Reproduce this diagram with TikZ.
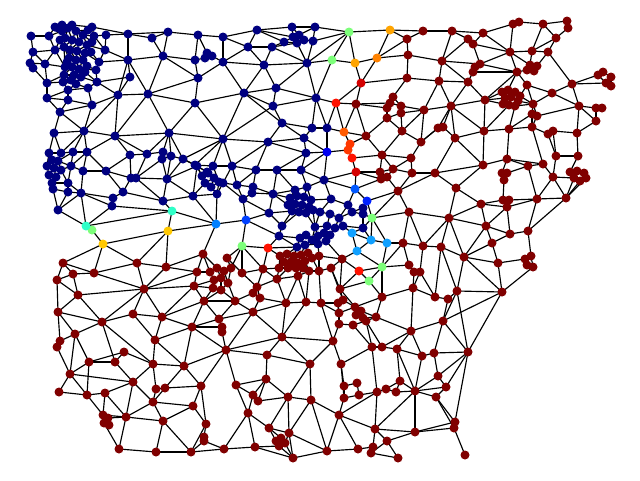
\documentclass[tikz,border=0pt]{standalone}
\usetikzlibrary{backgrounds}
\definecolor{nv}{HTML}{000080}
\definecolor{dr}{HTML}{800000}
\definecolor{lgr}{HTML}{7DFF7A}
\definecolor{ora}{HTML}{FFA400}
\definecolor{orb}{HTML}{FF8200}
\definecolor{orc}{HTML}{FF5A00}
\definecolor{ord}{HTML}{FF3800}
\definecolor{rdd}{HTML}{FF1200}
\definecolor{rre}{HTML}{D40000}
\definecolor{cya}{HTML}{2FFFC8}
\definecolor{gol}{HTML}{FFC800}
\definecolor{bla}{HTML}{0080FF}
\definecolor{blb}{HTML}{0058FF}
\definecolor{blc}{HTML}{0020FF}
\definecolor{bld}{HTML}{0040FF}
\definecolor{ble}{HTML}{0000F0}
\definecolor{lbl}{HTML}{10A0FF}
\begin{document}
\begin{tikzpicture}[x=1pt,y=-1pt,
  nd/.style={circle,inner sep=0pt,minimum size=9pt,draw=none},
  ed/.style={line width=1.15pt,black}]
\useasboundingbox (0,0) rectangle (640,480);
% navy nodes
\foreach \n/\x/\y in {b1/31/36,b2/49/36,b3/55/27,b4/62/25,b5/72/25,b6/92/27,b7/94/36,b8/106/35,b9/128/34,b10/152/38,b11/168/32,b12/198/35,b13/223/37,b14/33/52,b15/55/50,b16/30/63,b16x/33/68,b17/45/64,b18/65/67,b19/64/75,b20/63/82,b21/47/83,b22/47/98,b23/68/90,b24/68/100,b25/88/88,b26/97/82,b27/96/70,b28/99/62,b29/92/105,b30/105/50,b31/128/60,b32/130/77,b33/163/56,b34/195/60,b35/207/53,b35x/212/56,b35y/205/58,b36/223/62,b37/198/78,b38/118/95,b39/148/94,b40/195/103,b41/60/112,b42/54/133,b43/84/131,b44/115/136,b45/169/133,b46/223/139,b47/49/153,b48/61/153,b49/73/152,b50/87/152,b51/130/155,b52/147/154,b53/163/152,b54/162/159,b55/171/156,b56/183/159,b57/195/165,b58/213/166,b59/207/172,
k1/62/31,k2/68/28,k3/76/31,k4/83/35,k5/65/38,k6/72/40,k7/79/42,k8/87/45,k9/64/47,k10/70/50,k11/77/51,k12/85/53,k13/69/58,k14/76/60,k15/83/60,k16/72/67,k17/79/69,k18/74/75,k19/81/77,k20/76/84,
k21/58/28,k22/88/30,k23/92/42,k24/60/40,k25/91/52,k26/67/62,k27/87/66,k28/71/80,k29/85/72,
l1/52/160,l2/58/161,l3/47/166,l4/54/168,l5/61/170,l6/49/175,l7/56/177,l8/52/183,
b60/71/166,b61/83/171,b62/106/171,b63/131/178,b63x/136/178,b64/167/179,b65/197/166,m1/202/176,m2/208/173,m3/214/178,m4/205/183,m5/211/187,m6/219/182,b66/53/189,b67/68/192,b68/81/193,b69/68/183,b70/123/192,b71/113/198,b72/112/206,b73/163/201,b74/193/196,b75/217/194,b76/58/210,
b80/257/30,b81/292/27,b82/315/27,q1/293/37,q2/299/35,q3/304/40,q4/297/43,b83/284/42,b84/313/41,b85/248/47,b86/272/47,b87/264/65,b88/307/63,b89/244/93,b90/276/88,b91/273/106,b92/316/98,b93/282/123,b94/312/128,b95/327/128,b96/268/142,b97/304/138,b98/306/153,b99/232/166,b100/256/170,b101/277/170,b102/301/170,
b110/324/180,b111/223/183,b112/237/185,b113/253/187,b114/252/193,b115/273/194,b116/243/199,b117/295/190,b118/307/187,nb1/290/198,nb2/297/196,nb3/304/197,nb4/311/200,nb5/288/205,nb6/295/204,nb7/302/205,nb8/309/207,nb9/292/211,nb10/299/212,nb11/306/213,nb12/313/210,b120/331/199,b121/348/205,b122/352/212,b123/363/208,b124/363/214,b125/320/212,b126/269/213,b128/330/214,b129/339/218,b130/282/226,b131/279/236,b132/315/227,b133/327/226,b134/335/228,b135/343/226,b136/363/228,p1/300/238,p2/306/235,p3/312/240,p4/318/236,p5/324/233,p6/330/235,p7/305/245,p8/318/244,p9/326/241,b137/297/247}
  \node[nd,fill=nv] (\n) at (\x,\y) {};
% dark red nodes
\foreach \n/\x/\y in {r1/203/254,r2/63/263,r3/137/263,r4/166/267,r5/73/274,r6/94/273,r7/197/272,r8/57/280,r9/144/289,r10/194/286,c1/210/272,c2/217/268,c3/224/271,c4/231/268,c5/214/280,c6/221/278,c7/228/283,c8/213/288,c9/221/290,r11/78/295,r12/204/301,r13/58/312,r14/133/314,r15/162/317,r16/102/322,r17/219/319,
r20/423/31,r21/407/39,r22/408/55,r23/407/78,r24/356/104,r25/393/97,r26/390/103,r27/387/108,r28/401/106,r29/401/113,r30/387/118,r31/424/110,r32/366/136,r33/402/131,r34/421/142,r35/382/155,r36/411/158,r37/380/172,r38/387/177,r39/381/179,r40/393/169,r41/412/173,
r50/452/31,r51/468/39,r52/473/44,r53/483/33,r54/513/24,r55/519/22,r56/543/24,r57/567/21,r58/568/28,r59/556/38,r60/510/52,r61/532/51,r62/548/52,r63/530/65,r64/537/66,r65/527/70,r66/534/71,r67/442/61,r68/480/64,r69/475/67,r70/473/72,r71/517/72,r72/439/81,r73/468/82,r74/527/85,r75/552/93,r76/572/84,r77/598/75,r78/603/72,r79/611/77,r80/606/83,r81/611/86,r82/485/100,
r83/502/92,r84/508/90,r85/515/92,r86/520/96,r87/505/98,r88/511/97,r89/518/101,r90/503/104,r91/509/105,r92/515/106,
r93/533/104,r94/532/114,r95/537/116,r96/579/106,r97/596/108,r98/602/108,r99/596/121,r100/451/106,r102/438/128,r103/443/127,r104/484/131,r105/509/129,r106/532/127,r107/548/134,r108/553/131,r109/577/133,r111/455/138,r112/556/156,r113/578/156,r114/543/164,r115/507/159,r116/483/165,r117/435/173,r118/502/173,r119/507/173,r120/504/180,r121/528/166,r122/570/172,r123/577/171,r124/584/173,r125/574/178,r126/580/181,r127/586/178,r157/553/177,
r130/456/188,r131/481/204,r132/503/200,r133/509/200,r134/507/207,r135/537/199,r136/566/198,r137/449/218,r138/486/226,r139/510/234,r140/528/231,r141/492/243,r142/423/246,r143/441/247,r144/464/257,r145/498/263,r146/525/259,r147/531/256,r148/533/267,r149/527/265,r151/457/291,r152/435/297,r153/448/299,r154/502/292,r155/443/321,
r161/398/191,r162/409/212,r163/403/243,r165/342/259,s1/280/256,s2/287/254,s3/294/256,s4/301/255,s5/308/253,s6/284/262,s7/291/262,s8/298/263,s9/305/261,s10/312/258,s11/319/256,s12/288/268,s13/296/268,s14/303/268,s15/279/268,
r166/227/258,r167/242/273,r168/263/269,r169/298/276,r170/309/271,r171/319/271,r172/331/268,r173/277/279,r174/257/287,r175/340/289,r176/382/297,r177/409/265,r178/414/272,r179/420/272,r180/413/288,r181/253/293,r182/260/298,r182b/253/312,r183/235/301,r184/286/303,r185/306/302,r186/321/303,r187/338/303,r188/343/300,r189/355/307,r189b/339/313,r190/361/311,r191/356/315,r192/363/318,r193/376/317,
r200/192/327,r201/222/327,r202/222/332,r203/75/334,r204/60/341,r205/57/347,r206/155/340,r207/226/350,r208/89/362,r209/115/362,r210/124/352,r211/153/364,r212/184/366,r213/70/374,r214/133/382,r215/156/389,r216/165/388,r217/201/386,r218/59/392,r219/87/395,r220/105/393,r221/153/402,r222/193/406,t1/103/415,t2/108/418,t3/104/423,t4/109/425,r224/126/417,r225/163/421,r226/206/424,r227/204/437,r228/204/441,r229/119/449,r230/156/452,r231/191/452,r232/224/449,
r233/282/337,r234/333/341,r235/339/324,r236/353/325,r237/366/321,r239/411/331,r240/267/355,r241/310/364,r242/341/364,r243/372/347,r244/382/347,r245/397/349,r246/422/356,r247/266/379,r248/236/385,r249/253/395,r250/258/401,r251/288/397,r252/311/400,r253/344/386,r254/357/383,r255/359/395,r256/344/398,r257/377/392,r258/386/389,r259/396/392,r260/400/381,r261/415/391,r262/339/415,r263/248/413,r264/269/428,r265/289/433,r266/375/429,r267/415/432,r268/387/441,u1/276/441,u2/281/438,u3/285/443,u4/279/446,r270/255/447,r271/293/458,r272/327/451,r273/358/449,r274/373/447,r275/371/453,r276/398/458,
r280/468/352,r281/434/353,r282/438/376,r283/446/387,r284/436/397,r285/455/422,r286/454/428,r287/465/455}
  \node[nd,fill=dr] (\n) at (\x,\y) {};
% coloured nodes
\foreach \n/\x/\y/\c in {g1/349/32/lgr,g2/332/60/lgr,g3/372/218/lgr,g4/242/246/lgr,g5/382/267/lgr,g6/369/281/lgr,lg1/92/230/lgr,
o1/390/30/ora,o2/355/63/ora,o3/377/58/orb,o4/344/132/orc,or1/350/144/ord,or2/348/150/ord,
rb1/336/103/rdd,rd1/352/158/rdd,rd2/268/248/rdd,rd3/359/271/rdd,rr1/361/83/rre,rr2/356/172/rre,
cy1/172/211/cya,cy2/86/226/cya,y1/168/231/gol,y2/103/244/gol,
bl1/216/224/bla,bl2/355/189/blb,bl3/367/201/blc,bl4/246/220/bld,bb1/327/152/ble,
lb1/352/233/lbl,lb2/371/240/lbl,lb3/387/243/lbl,lb4/357/251/lbl}
  \node[nd,fill=\c] (\n) at (\x,\y) {};
\begin{pgfonlayer}{background}
% top-left
\foreach \a/\b in {b1/b2,b1/b14,b2/b3,b2/b15,b2/k1,b3/b4,b4/b5,b4/k1,b5/k2,b5/k3,b5/b6,b6/k4,b6/b7,b6/b9,b7/k4,b7/b8,b7/b30,b8/b9,b8/b30,b9/b10,b9/b11,b9/b31,b10/b11,b10/b33,b11/b12,b11/b33,b12/b13,b12/b34,b13/b36,b13/b80,b13/b85,b14/b15,b14/b16,b14/b17,b15/b17,b15/k9,b15/b18,b16/b16x,b16/b17,b16x/b21,b17/b21,b17/b18,b18/b19,b18/k16,b19/b20,b19/b21,b20/b21,b20/b23,b20/k20,b21/b22,b22/b23,b22/b24,b22/b41,b23/b24,b23/b25,b24/b29,b24/b41,b25/b26,b25/b29,b25/k20,b26/b27,b26/b38,b26/k19,b26/b32,b27/b28,b27/k17,b28/b30,b28/k12,b28/b31,b29/b38,b29/b41,b29/b43,b30/b31,b30/k8,b31/b32,b31/b33,b31/b38,b31/b39,b32/b38,b33/b34,b33/b37,b33/b39,b34/b35y,b34/b37,b35/b35x,b35/b35y,b35x/b36,b35/b12,b36/b37,b36/b85,b36/b87,b36/b89,b37/b39,b37/b40,b38/b39,b38/b43,b38/b44,b39/b40,b39/b44,b39/b45,b40/b45,b40/b46,b40/b89,
b41/b42,b41/b43,b42/b43,b42/b47,b42/b48,b43/b44,b43/b48,b43/b49,b43/b50,b44/b45,b44/b50,b44/b51,b44/b52,b45/b46,b45/b52,b45/b53,b45/b55,b45/b56,b46/b56,b46/b57,b46/b58,b46/b89,b46/b91,b46/b96,b46/b99}
  \draw[ed] (\a.center) -- (\b.center);
\foreach \a/\b in {k1/k2,k2/k3,k3/k4,k1/k5,k2/k5,k2/k6,k3/k6,k3/k7,k4/k7,k4/k8,k5/k6,k6/k7,k7/k8,k5/k9,k6/k10,k6/k9,k7/k11,k7/k10,k8/k12,k8/k11,k9/k10,k10/k11,k11/k12,k9/k13,k10/k13,k10/k14,k11/k14,k11/k15,k12/k15,k13/k14,k14/k15,k13/k16,k14/k16,k14/k17,k15/k17,k16/k17,k16/k18,k17/k18,k17/k19,k18/k19,k18/k20,k19/k20,k13/b18,k16/b19,k18/b19,k18/b20,k20/b23,k9/b18,
k21/k1,k21/b3,k21/k5,k22/k4,k22/b6,k22/k3,k23/k4,k23/k8,k23/b7,k24/k5,k24/k9,k24/b15,k25/k8,k25/k12,k25/b28,k26/k13,k26/k16,k26/b18,k27/k15,k27/k17,k27/b27,k28/k18,k28/k20,k28/b19,k29/k17,k29/k19,k29/b26,
b47/b48,b47/l1,b47/l3,b48/l2,b48/b49,b49/b50,b49/l2,b49/b60,b50/b60,b50/b61,b50/b62,b51/b62,b51/b52,b51/b63,b52/b53,b52/b63x,b53/b54,b53/b55,b54/b55,b54/b64,b54/b63x,b55/b56,b55/b64,b56/b57,b56/b64,b56/b65,b57/b65,b57/b58,b57/b59,b58/b59,b58/m2,b58/m6,b58/b99,b59/m1,b59/m2,b59/b65,b65/m1,b65/m4,b65/b74,b64/b65,b64/b74,b64/b73,b63/b63x,b63/b70,b63x/b64,b63x/b73,b62/b63,b62/b70,b62/b61,b61/b60,b61/b68,b60/l2,b60/l5,b60/b69,l1/l2,l1/l3,l1/l4,l2/l4,l2/l5,l3/l4,l3/l6,l4/l5,l4/l7,l4/l6,l5/l7,l6/l7,l6/l8,l7/l8,l5/b69,l8/b66,l8/b69,b66/b67,b66/b76,b67/b68,b67/b69,b67/b76,b68/b69,b68/b76,b68/cy2,b68/b72,b68/b71,b71/b70,b71/b72,b70/b73,b72/cy1,b72/cy2,b73/cy1,b73/b74,b74/bl1,b74/b75,b74/m4,b75/m5,b75/m6,b75/bl1,b75/b111,m1/m2,m1/m4,m2/m3,m3/m4,m3/m6,m4/m5,m5/m6,m3/m5,b76/cy2,cy2/lg1,cy2/cy1,lg1/y2,cy1/y1,cy1/bl1,y1/y2,y1/bl1,y1/r3,y1/r4,y2/r2,y2/r3,y2/r6,bl1/r1,bl1/bl4,m6/b111}
  \draw[ed] (\a.center) -- (\b.center);
% bottom-left red
\foreach \a/\b in {r1/r4,r1/r7,r1/c1,r1/c2,r2/r5,r2/r8,r2/r6,r5/r8,r5/r6,r5/r11,r8/r11,r8/r13,r6/r3,r6/r9,r3/r9,r3/r4,r4/r9,r4/r7,r7/r9,r7/r10,r7/c1,r9/r10,r9/r11,r9/r14,r9/r16,r9/r15,r10/r15,r10/r12,r10/c5,r10/c8,r12/r15,r12/r17,r12/c8,r12/c9,r12/r183,r12/r200,r11/r13,r11/r16,r13/r16,r13/r203,r13/r204,r14/r16,r14/r15,r14/r206,r15/r206,r15/r200,r16/r203,r16/r209,r16/r211,r17/r200,r17/r201,r17/r182b,r17/r183,r201/r202,r202/r207,
c1/c2,c2/c3,c3/c4,c1/c5,c2/c6,c3/c6,c3/c7,c4/c7,c5/c6,c6/c7,c5/c8,c6/c9,c7/c9,c8/c9,c4/r166,c9/r183,c7/r183,
r182b/r183,r182b/r182,r182b/r184,r182b/r233,r182b/r207,
r200/r201,r200/r206,r200/r207,r200/r212,r203/r204,r203/r208,r203/r213,r204/r205,r205/r213,r206/r211,r206/r212,r207/r212,r207/r217,r208/r209,r208/r210,r208/r213,r208/r219,r209/r210,r209/r214,r210/r211,r211/r212,r211/r214,r211/r215,r212/r216,r212/r217,r213/r214,r213/r218,r213/r219,r214/r220,r214/r221,r214/r224,r215/r216,r215/r221,r216/r217,r216/r221,r217/r222,r217/r226,r218/r219,r219/r220,r220/t1,r220/r224,r221/r222,r221/r224,r221/r225,r222/r225,r222/r226,r224/t1,r224/t2,r224/r229,r224/r225,r225/r230,r225/r231,r226/r231,r226/r227,r227/r228,r228/r231,r228/r232,r229/r230,r229/t3,r230/r231,r231/r232,t1/t2,t1/t3,t2/t4,t3/t4,t1/r219,r207/r248,r232/r270,r232/r263}
  \draw[ed] (\a.center) -- (\b.center);
% top middle
\foreach \a/\b in {b80/b81,b80/b85,b80/q1,b80/b83,b81/q1,b81/q2,b81/b82,b82/q2,b82/b84,b82/g1,b83/q1,b83/q4,b83/b86,b84/q3,b84/g1,b84/b88,q1/q2,q2/q3,q3/q4,q4/q1,q4/b88,q4/b86,b85/b86,b85/b87,b86/b87,b86/b88,b87/b88,b87/b89,b87/b90,b88/b90,b88/b92,b88/g2,b88/g1,g1/g2,g1/o2,g1/o1,g2/o2,g2/b92,o1/o3,o1/r21,o1/r20,o2/o3,o2/rr1,o3/rr1,o3/r22,o3/r21,r20/r21,r20/r50,r21/r22,r22/r23,r22/r67,rr1/r23,rr1/r24,rr1/rb1,r23/r25,r23/r72,b89/b90,b89/b91,b89/b93,b90/b91,b90/b92,b91/b92,b91/b93,b92/rb1,b92/b94,b92/b95,rb1/r24,rb1/o4,rb1/b95,r24/r27,r24/r26,r24/o4,r24/r32,r25/r26,r25/r28,r26/r27,r26/r28,r27/r30,r28/r29,r28/r31,r29/r30,r29/r31,r29/r33,r30/r32,r30/r33,r31/r33,r31/r34,r31/r100,r31/r72,r33/r34,r33/r35,r34/r36,r34/r102,r32/o4,r32/or1,r32/r35,o4/or1,o4/b95,b93/b94,b93/b96,b93/b97,b94/b95,b94/b97,b95/bb1,b97/bb1,b97/b98,b96/b97,b96/b98,b96/b99,b96/b100,b98/bb1,b98/b101,b98/b102,b99/b100,b99/b111,b99/b112,b100/b101,b100/b112,b100/b113,b101/b102,b101/b115,b101/b117,b102/bb1,b102/b110,b102/b118,bb1/or2,bb1/b110,or1/or2,or2/rd1,rd1/r35,rd1/rr2,rr2/r37,rr2/r39,rr2/bl2,rr2/b110,r35/r36,r35/r37,r35/r40,r36/r40,r36/r41,r37/r38,r37/r40,r38/r39,r38/r40,r38/r161,r40/r41,r41/r161,r41/r117}
  \draw[ed] (\a.center) -- (\b.center);
% top right
\foreach \a/\b in {r50/r51,r50/r53,r50/r67,r51/r52,r51/r67,r52/r53,r52/r60,r52/r68,r53/r54,r53/r60,r54/r55,r54/r60,r55/r56,r56/r57,r56/r59,r56/r61,r57/r58,r58/r59,r59/r62,r59/r61,r60/r61,r60/r63,r60/r68,r60/r71,r61/r62,r61/r63,r62/r64,r63/r64,r63/r65,r64/r66,r65/r66,r65/r71,r67/r68,r67/r72,r67/r73,r68/r69,r68/r71,r69/r70,r70/r73,r70/r71,r71/r74,r71/r82,r73/r82,r72/r73,r72/r100,r73/r100,r74/r75,r74/r93,r75/r76,r75/r93,r75/r96,r62/r76,r76/r77,r76/r96,r77/r78,r78/r79,r79/r81,r80/r81,r77/r80,r76/r80,r82/r83,r82/r87,r82/r90,r82/r100,r82/r104,r83/r84,r84/r85,r85/r86,r83/r87,r84/r88,r85/r89,r86/r93,r87/r88,r88/r89,r87/r90,r88/r91,r89/r92,r90/r91,r91/r92,r89/r93,r92/r93,r74/r86,r71/r84,r91/r104,r92/r105,r93/r94,r93/r95,r94/r95,r94/r105,r94/r106,r95/r106,r95/r96,r96/r97,r96/r99,r96/r109,r97/r98,r97/r99,r99/r109,r100/r102,r100/r103,r100/r104,r100/r111,r102/r103,r103/r111,r104/r105,r104/r111,r104/r116,r105/r106,r105/r115,r106/r107,r106/r114,r107/r108,r108/r109,r107/r112,r108/r112,r109/r113,r112/r113,r113/r122,r112/r157,r114/r121,r114/r157,r115/r114,r115/r116,r115/r118,r115/r121,r116/r117,r116/r130,r111/r116,r111/r117,r117/r130,r118/r119,r118/r120,r119/r121,r120/r132,r121/r135,r122/r123,r123/r124,r122/r125,r125/r126,r126/r127,r124/r127,r125/r157,r157/r135,r157/r136,r136/r125,r136/r126,r136/r127,r117/r161,r102/r34}
  \draw[ed] (\a.center) -- (\b.center);
% right middle
\foreach \a/\b in {r130/r131,r130/r137,r131/r132,r131/r134,r131/r137,r131/r138,r132/r133,r133/r134,r133/r135,r134/r138,r134/r139,r134/r135,r135/r136,r135/r140,r136/r140,r137/r138,r137/r143,r137/r142,r137/r144,r138/r139,r138/r141,r138/r144,r139/r140,r139/r141,r140/r147,r141/r145,r141/r144,r142/r143,r142/r179,r142/r163,r142/r162,r143/r144,r143/r151,r143/r152,r144/r145,r144/r151,r144/r154,r145/r146,r145/r154,r146/r147,r146/r149,r147/r148,r148/r149,r148/r154,r151/r153,r151/r154,r151/r155,r152/r153,r152/r179,r153/r155,r154/r155,r154/r280,r151/r280,r155/r239,r155/r280,r155/r281,r161/r162,r162/r137,r162/r163}
  \draw[ed] (\a.center) -- (\b.center);
% middle blue
\foreach \a/\b in {b110/b118,b110/b120,b110/bl2,b111/b112,b111/b116,b112/b113,b112/b116,b113/b114,b113/b115,b114/b115,b114/b116,b115/b117,b115/nb1,b115/nb5,b115/b126,b116/b126,b116/bl4,b117/b118,b117/nb1,b117/nb2,b118/nb3,b118/nb4,nb1/nb2,nb2/nb3,nb3/nb4,nb1/nb5,nb2/nb6,nb3/nb7,nb4/nb8,nb5/nb6,nb6/nb7,nb7/nb8,nb5/nb9,nb6/nb10,nb7/nb11,nb8/nb12,nb9/nb10,nb10/nb11,nb11/nb12,nb4/nb12,nb12/b125,nb4/b120,nb9/b126,nb9/b130,nb10/b130,nb11/b132,nb12/b132,b120/b125,b120/b121,b121/bl2,b121/b122,b121/b129,b122/b123,b122/b124,b122/b129,b123/bl3,b123/b124,b124/g3,b124/b136,bl2/bl3,bl2/r39,bl3/r161,bl3/g3,g3/r161,g3/r162,g3/lb3,g3/b136,g3/lb2,b125/b128,b125/b132,b128/b129,b128/b133,b129/b135,b129/b134,b132/b133,b133/b134,b134/b135,b135/b136,b135/lb1,b136/lb1,b136/lb2,lb1/lb2,lb1/lb4,lb2/lb3,lb2/lb4,lb3/r163,lb3/g5,lb4/g5,lb4/r165,b126/b130,b126/bl4,bl4/b131,bl4/g4,b130/b131,b131/b137,b131/rd2,b131/p1,b132/p4,b132/p3,p1/p2,p2/p3,p3/p4,p4/p5,p5/p6,p1/p7,p3/p7,p3/p8,p4/p8,p5/p9,p6/p9,p8/p9,p7/p8,p7/b137,p1/b137,p6/b134,p5/b133,p9/r165,p8/s11,p7/s4}
  \draw[ed] (\a.center) -- (\b.center);
% middle red
\foreach \a/\b in {g4/rd2,g4/r166,g4/r167,g4/r168,g4/c4,rd2/r168,rd2/s1,rd2/b137,b137/s2,b137/s3,s1/s2,s2/s3,s3/s4,s4/s5,s5/s10,s10/s11,s1/s6,s2/s7,s3/s8,s4/s9,s6/s7,s7/s8,s8/s9,s9/s10,s6/s12,s7/s13,s8/s14,s12/s13,s13/s14,s6/s15,s15/s12,s1/s15,s15/r168,s15/r173,s12/r173,s13/r169,s14/r169,s14/r170,s9/r170,s10/r171,s11/r171,s11/r165,r165/r172,r165/rd3,r165/r175,r171/r172,r172/r175,r170/r171,r169/r170,r169/r173,r168/r173,r167/r168,r166/r167,r167/r174,r168/r174,r173/r174,r174/r181,r174/r182,r181/r182,r181/r183,r182/r184,r173/r184,r169/r184,r169/r185,r170/r185,r171/r186,r172/r188,r184/r185,r185/r186,r186/r187,r186/r189b,r187/r188,r187/r189b,r189b/r189,r189b/r235,r188/r175,r175/r189,r175/rd3,r175/g6,rd3/g6,rd3/g5,g5/g6,g5/r176,g6/r176,g5/r177,g5/r163,r163/r177,r176/r180,r176/r193,r176/r189,r177/r178,r178/r179,r178/r180,r179/r180,r180/r239,r180/r152,r189/r190,r190/r191,r191/r192,r189/r191,r190/r192,r192/r193,r190/r193,r187/r235,r188/r189,r193/r237,r193/r239}
  \draw[ed] (\a.center) -- (\b.center);
% bottom middle and right
\foreach \a/\b in {r184/r233,r185/r233,r186/r234,r233/r234,r233/r240,r233/r207,r233/r241,r234/r235,r234/r242,r234/r241,r235/r236,r236/r237,r236/r243,r237/r243,r237/r244,r239/r244,r239/r245,r239/r246,r243/r244,r243/r257,r243/r242,r244/r245,r245/r260,r245/r246,r245/r261,r246/r261,r246/r281,r240/r241,r240/r247,r240/r207,r241/r251,r241/r252,r242/r253,r242/r256,r247/r248,r247/r249,r247/r251,r247/r250,r248/r249,r248/r263,r249/r250,r249/r263,r250/r251,r251/r252,r251/r264,r251/r265,r252/r262,r252/r265,r252/r272,r253/r254,r253/r256,r254/r255,r255/r256,r255/r257,r256/r262,r257/r258,r257/r262,r257/r266,r258/r259,r258/r260,r259/r260,r259/r261,r260/r261,r261/r266,r261/r267,r261/r282,r261/r283,r261/r284,r262/r266,r262/r272,r262/r273,r263/r264,r263/r270,r264/r265,r264/u1,r265/u3,r265/r271,r265/r272,r266/r267,r266/r268,r266/r274,r267/r268,r267/r285,r267/r286,r268/r276,r268/r275,r270/u4,r270/r271,r271/u3,r271/u4,r271/r272,r272/r273,r273/r274,r274/r275,r275/r276,u1/u2,u2/u3,u3/u4,u4/u1,u2/r264,
r280/r281,r281/r282,r280/r282,r280/r283,r280/r285,r282/r283,r283/r284,r284/r285,r284/r286,r285/r286,r286/r287}
  \draw[ed] (\a.center) -- (\b.center);
\end{pgfonlayer}
\end{tikzpicture}
\end{document}
